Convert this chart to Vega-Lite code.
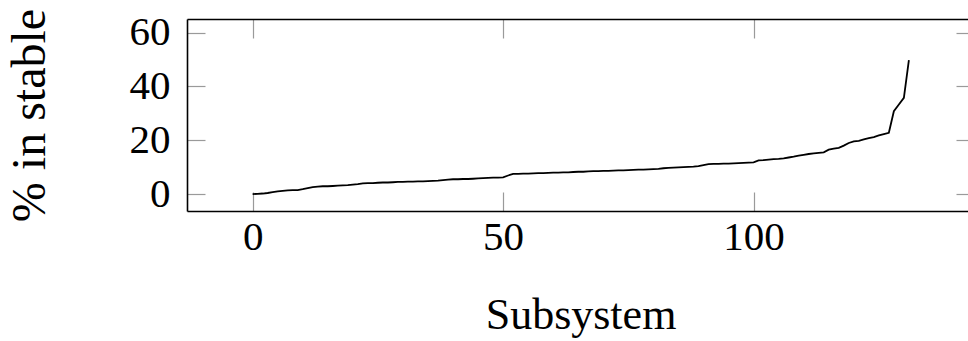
{
  "$schema": "https://vega.github.io/schema/vega-lite/v6.json",
  "autosize": "none",
  "padding": {"left": 187, "top": 19, "right": 0, "bottom": 130},
  "width": 781,
  "height": 192,
  "config": {
    "view": {"stroke": null},
    "font": "Liberation Serif",
    "axis": {"grid": false, "labelFont": "Liberation Serif", "titleFont": "Liberation Serif", "labelColor": "black", "titleColor": "black", "titleFontWeight": "normal", "domainColor": "black", "domainWidth": 1.6, "tickColor": "#9a9a9a", "tickWidth": 1.2}
  },
  "data": {"values": [
    {"i":0,"pct":0.0},{"i":1,"pct":0.1},{"i":2,"pct":0.2},{"i":3,"pct":0.4},{"i":4,"pct":0.7},{"i":5,"pct":1.0},{"i":6,"pct":1.2},{"i":7,"pct":1.4},{"i":8,"pct":1.5},{"i":9,"pct":1.5},
    {"i":10,"pct":1.8},{"i":11,"pct":2.2},{"i":12,"pct":2.6},{"i":13,"pct":2.8},{"i":14,"pct":2.9},{"i":15,"pct":2.9},{"i":16,"pct":3.0},{"i":17,"pct":3.1},{"i":18,"pct":3.2},{"i":19,"pct":3.3},
    {"i":20,"pct":3.5},{"i":21,"pct":3.7},{"i":22,"pct":4.0},{"i":23,"pct":4.1},{"i":24,"pct":4.1},{"i":25,"pct":4.2},{"i":26,"pct":4.3},{"i":27,"pct":4.3},{"i":28,"pct":4.4},{"i":29,"pct":4.5},
    {"i":30,"pct":4.5},{"i":31,"pct":4.6},{"i":32,"pct":4.6},{"i":33,"pct":4.7},{"i":34,"pct":4.7},{"i":35,"pct":4.8},{"i":36,"pct":4.9},{"i":37,"pct":5.0},{"i":38,"pct":5.2},{"i":39,"pct":5.4},
    {"i":40,"pct":5.5},{"i":41,"pct":5.5},{"i":42,"pct":5.6},{"i":43,"pct":5.6},{"i":44,"pct":5.7},{"i":45,"pct":5.8},{"i":46,"pct":5.9},{"i":47,"pct":6.0},{"i":48,"pct":6.1},{"i":49,"pct":6.1},
    {"i":50,"pct":6.2},{"i":51,"pct":6.9},{"i":52,"pct":7.5},{"i":53,"pct":7.5},{"i":54,"pct":7.6},{"i":55,"pct":7.6},{"i":56,"pct":7.7},{"i":57,"pct":7.8},{"i":58,"pct":7.8},{"i":59,"pct":7.9},
    {"i":60,"pct":8.0},{"i":61,"pct":8.0},{"i":62,"pct":8.1},{"i":63,"pct":8.1},{"i":64,"pct":8.2},{"i":65,"pct":8.3},{"i":66,"pct":8.3},{"i":67,"pct":8.4},{"i":68,"pct":8.5},{"i":69,"pct":8.5},
    {"i":70,"pct":8.6},{"i":71,"pct":8.6},{"i":72,"pct":8.7},{"i":73,"pct":8.8},{"i":74,"pct":8.8},{"i":75,"pct":8.9},{"i":76,"pct":9.0},{"i":77,"pct":9.1},{"i":78,"pct":9.1},{"i":79,"pct":9.2},
    {"i":80,"pct":9.3},{"i":81,"pct":9.4},{"i":82,"pct":9.6},{"i":83,"pct":9.7},{"i":84,"pct":9.8},{"i":85,"pct":9.9},{"i":86,"pct":10.0},{"i":87,"pct":10.1},{"i":88,"pct":10.2},{"i":89,"pct":10.4},
    {"i":90,"pct":10.8},{"i":91,"pct":11.1},{"i":92,"pct":11.2},{"i":93,"pct":11.2},{"i":94,"pct":11.3},{"i":95,"pct":11.3},{"i":96,"pct":11.4},{"i":97,"pct":11.5},{"i":98,"pct":11.6},{"i":99,"pct":11.7},
    {"i":100,"pct":11.8},{"i":101,"pct":12.5},{"i":102,"pct":12.6},{"i":103,"pct":12.8},{"i":104,"pct":13.0},{"i":105,"pct":13.1},{"i":106,"pct":13.3},{"i":107,"pct":13.6},{"i":108,"pct":13.9},{"i":109,"pct":14.3},
    {"i":110,"pct":14.6},{"i":111,"pct":14.9},{"i":112,"pct":15.1},{"i":113,"pct":15.3},{"i":114,"pct":15.5},{"i":115,"pct":16.5},{"i":116,"pct":16.9},{"i":117,"pct":17.2},{"i":118,"pct":18.0},{"i":119,"pct":19.0},
    {"i":120,"pct":19.6},{"i":121,"pct":19.8},{"i":122,"pct":20.3},{"i":123,"pct":20.8},{"i":124,"pct":21.2},{"i":125,"pct":21.8},{"i":126,"pct":22.3},{"i":127,"pct":22.8},{"i":128,"pct":30.8},{"i":129,"pct":33.3},
    {"i":130,"pct":35.8},{"i":131,"pct":49.8}
  ]},
  "layer": [
    {
      "mark": {"type": "line", "color": "black", "strokeWidth": 1.8, "clip": true},
      "encoding": {
        "x": {"field": "i", "type": "quantitative", "scale": {"domain": [-13.1, 142.8], "nice": false, "zero": false},
          "axis": {"orient": "bottom", "values": [0, 50, 100], "tickSize": -19, "labelFontSize": 41, "labelPadding": 25, "labelBaseline": "top", "title": "Subsystem", "titleFontSize": 44, "titleX": 393.5, "titleY": 117, "titleBaseline": "alphabetic", "titleAnchor": "start", "titleAlign": "center"}},
        "y": {"field": "pct", "type": "quantitative", "scale": {"domain": [-6.3, 65.1], "nice": false, "zero": false},
          "axis": {"orient": "left", "values": [0, 20, 40, 60], "tickSize": -18, "labelFontSize": 41, "labelPadding": 35, "labelBaseline": "middle", "title": "% in stable", "titleFontSize": 48, "titleAngle": -90, "titleX": -143, "titleY": 96, "titleBaseline": "alphabetic", "titleAlign": "center"}}
      }
    },
    {
      "mark": {"type": "line", "color": "black", "strokeOpacity": 0},
      "encoding": {
        "x": {"field": "i", "type": "quantitative", "scale": {"domain": [-13.1, 142.8], "nice": false, "zero": false},
          "axis": {"orient": "top", "values": [0, 50, 100], "tickSize": -19, "labels": false, "title": null}},
        "y": {"field": "pct", "type": "quantitative", "scale": {"domain": [-6.3, 65.1], "nice": false, "zero": false},
          "axis": {"orient": "right", "values": [0, 20, 40, 60], "tickSize": -12, "labels": false, "domain": false, "title": null}}
      }
    }
  ],
  "resolve": {"axis": {"x": "independent", "y": "independent"}}
}
